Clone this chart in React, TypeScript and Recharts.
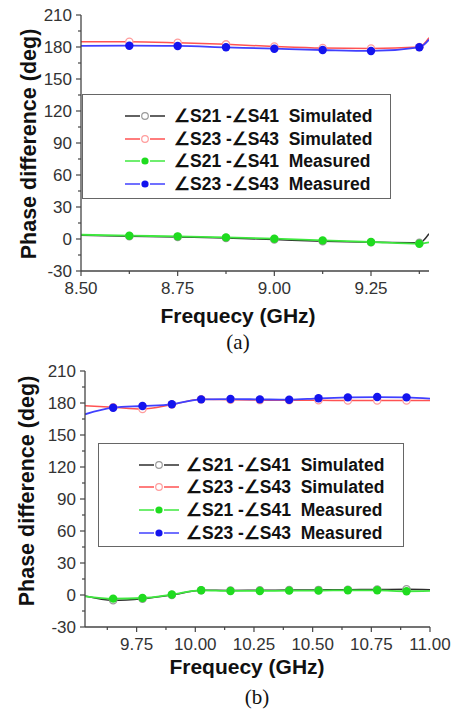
import React from 'react';
import { LineChart, Line, XAxis, YAxis, Label } from 'recharts';

// ---------- Data (a) ----------
const freqA = [8.5, 8.625, 8.75, 8.875, 9.0, 9.125, 9.25, 9.375, 9.4];
const simS21A = [3.5, 2.6, 1.8, 1.0, -0.5, -2.0, -3.0, -3.6, 5.0];
const simS23A = [185, 185, 184, 182.5, 180.5, 179, 178.6, 180, 188.7];
const measS21A = [4, 3.1, 2.5, 1.5, 0.3, -1.3, -2.8, -4.4, -3.2];
const measS23A = [181, 181.2, 181, 179.7, 178.4, 177.2, 176.3, 179.7, 187];
const xTicksA = [8.5, 8.625, 8.75, 8.875, 9.0, 9.125, 9.25, 9.375];

// ---------- Data (b) ----------
const freqB = [9.53, 9.65, 9.775, 9.9, 10.025, 10.15, 10.275, 10.4, 10.525, 10.65, 10.775, 10.9, 11.0];
const simS21B = [-1, -5, -3.5, 0, 4.5, 4.3, 4.5, 4.6, 4.8, 5, 5.1, 5.4, 5];
const simS23B = [177.5, 176, 174.4, 178.5, 183.4, 183, 182.7, 182.5, 182.5, 182.3, 182.3, 182.3, 182.3];
const measS21B = [-1.2, -3.4, -2.8, 0.4, 4.4, 3.8, 3.8, 4.1, 4.1, 4.4, 4.4, 3.5, 3.8];
const measS23B = [169.4, 175.6, 177.2, 178.8, 183.4, 183.7, 183.4, 183.1, 184.4, 185.3, 185.6, 185.3, 184.1];
const xTicksB = [9.625, 9.75, 9.875, 10.0, 10.125, 10.25, 10.375, 10.5, 10.625, 10.75, 10.875, 11.0];

const yTicks = [-30, -15, 0, 15, 30, 45, 60, 75, 90, 105, 120, 135, 150, 165, 180, 195, 210];

const legendLabels = [
  '\u2220S21 -\u2220S41  Simulated',
  '\u2220S23 -\u2220S43  Simulated',
  '\u2220S21 -\u2220S41  Measured',
  '\u2220S23 -\u2220S43  Measured',
];

const SANS = '"Liberation Sans", Arial, Helvetica, sans-serif';
const AXIS = '#454545';

const series = [
  { line: '#2e2e2e', mark: '#9a9a9a', hollow: true, width: 1.5 },
  { line: '#ff5252', mark: '#ff9c9c', hollow: true, width: 1.5 },
  { line: '#3fe83f', mark: '#1fdc1f', hollow: false, width: 1.8 },
  { line: '#4040ff', mark: '#1414ee', hollow: false, width: 1.8 },
];

const toRows = (xs: number[], ys: number[]) => xs.map((f, i) => ({ f, v: ys[i] }));

const makeDot = (s: typeof series[number], n: number) => (props: any) => {
  const { cx, cy, index } = props;
  if (index === 0 || index === n - 1 || cx == null || cy == null) return <g key={`e${index}`} />;
  if (s.hollow) {
    return <circle key={`d${index}`} cx={cx} cy={cy} r={3.6} fill="#fff" stroke={s.mark} strokeWidth={1.3} />;
  }
  return <circle key={`d${index}`} cx={cx} cy={cy} r={4.2} fill={s.mark} stroke="none" />;
};

const YTick = (props: any) => {
  const { x, y, payload } = props;
  const v = payload.value;
  const major = v % 30 === 0;
  return (
    <g>
      <line x1={x} x2={x - (major ? 5 : 3)} y1={y} y2={y} stroke={AXIS} strokeWidth={1.2} />
      {major && (
        <text x={x - 9} y={y} dy="0.36em" textAnchor="end" fontSize={17} fill="#333" fontFamily={SANS}>
          {v}
        </text>
      )}
    </g>
  );
};

const XTick = (props: any) => {
  const { x, y, payload } = props;
  const v = payload.value;
  const major = Math.abs(v * 4 - Math.round(v * 4)) < 1e-6;
  return (
    <g>
      <line x1={x} x2={x} y1={y} y2={y + (major ? 5 : 3)} stroke={AXIS} strokeWidth={1.2} />
      {major && (
        <text x={x} y={y + 23} textAnchor="middle" fontSize={17} fill="#333" fontFamily={SANS}>
          {v.toFixed(2)}
        </text>
      )}
    </g>
  );
};

const yTitle = (cx: number, cy: number) => () => (
  <text
    x={cx}
    y={cy}
    transform={`rotate(-90, ${cx}, ${cy})`}
    textAnchor="middle"
    dominantBaseline="central"
    fontSize={21.5}
    fontWeight="bold"
    fill="#111"
    fontFamily={SANS}
  >
    Phase difference (deg)
  </text>
);

const xTitle = (cx: number, by: number) => () => (
  <text x={cx} y={by} textAnchor="middle" fontSize={21} fontWeight="bold" fill="#111" fontFamily={SANS}>
    Frequecy (GHz)
  </text>
);

const Legend = ({ left, top, width, height, rowYs, sampleX, textX }: any) => (
  <div
    style={{
      position: 'absolute',
      left,
      top,
      width,
      height,
      border: '1.5px solid #666',
      background: '#fff',
      boxSizing: 'border-box',
    }}
  >
    {legendLabels.map((lab, i) => {
      const s = series[i];
      return (
        <div key={lab} style={{ position: 'absolute', left: 0, top: rowYs[i] - top - 12, height: 24, width: '100%' }}>
          <svg width={50} height={24} style={{ position: 'absolute', left: sampleX - left - 4 }}>
            <line x1={4} x2={19} y1={12} y2={12} stroke={s.line} strokeWidth={1.5} />
            <line x1={29} x2={44} y1={12} y2={12} stroke={s.line} strokeWidth={1.5} />
            {s.hollow ? (
              <circle cx={24} cy={12} r={3.3} fill="#fff" stroke={s.mark} strokeWidth={1.2} />
            ) : (
              <circle cx={24} cy={12} r={3.6} fill={s.mark} />
            )}
          </svg>
          <span
            style={{
              position: 'absolute',
              left: textX - left,
              top: 0,
              lineHeight: '24px',
              fontSize: 17.5,
              fontWeight: 'bold',
              fontFamily: SANS,
              color: '#111',
              whiteSpace: 'pre',
            }}
          >
            {lab}
          </span>
        </div>
      );
    })}
  </div>
);

const Panel = ({
  freq,
  vals,
  domain,
  xTicks,
  margin,
  height,
  yTitlePos,
  xTitlePos,
}: any) => {
  const n = freq.length;
  return (
    <LineChart width={457} height={height} margin={margin}>
      <XAxis
        dataKey="f"
        type="number"
        domain={domain}
        ticks={xTicks}
        interval={0}
        allowDataOverflow
        height={30}
        tickSize={0}
        tickMargin={0}
        tickLine={false}
        tick={<XTick />}
        axisLine={{ stroke: AXIS, strokeWidth: 1.3 }}
      >
        <Label content={xTitle(xTitlePos[0], xTitlePos[1])} />
      </XAxis>
      <YAxis
        type="number"
        domain={[-30, 210]}
        ticks={yTicks}
        interval={0}
        allowDataOverflow
        width={60}
        tickSize={0}
        tickMargin={0}
        tickLine={false}
        tick={<YTick />}
        axisLine={{ stroke: AXIS, strokeWidth: 1.3 }}
      >
        <Label content={yTitle(yTitlePos[0], yTitlePos[1])} />
      </YAxis>
      {vals.map((ys: number[], i: number) => (
        <Line
          key={i}
          data={toRows(freq, ys)}
          dataKey="v"
          type="monotone"
          stroke={series[i].line}
          strokeWidth={series[i].width}
          dot={makeDot(series[i], n)}
          activeDot={false}
          isAnimationActive={false}
        />
      ))}
    </LineChart>
  );
};

export default function App() {
  return (
    <div style={{ position: 'absolute', left: 0, top: 0, width: 457, height: 709, background: '#fff', overflow: 'hidden' }}>
      <div style={{ position: 'absolute', left: 0, top: 0 }}>
        <Panel
          freq={freqA}
          vals={[simS21A, simS23A, measS21A, measS23A]}
          domain={[8.5, 9.4]}
          xTicks={xTicksA}
          height={355}
          margin={{ top: 15, right: 28, bottom: 54, left: 21 }}
          yTitlePos={[29, 144]}
          xTitlePos={[238, 323]}
        />
      </div>
      <div style={{ position: 'absolute', left: 0, top: 355 }}>
        <Panel
          freq={freqB}
          vals={[simS21B, simS23B, measS21B, measS23B]}
          domain={[9.53, 11.0]}
          xTicks={xTicksB}
          height={354}
          margin={{ top: 16, right: 27, bottom: 52, left: 25 }}
          yTitlePos={[27, 136]}
          xTitlePos={[247, 319]}
        />
      </div>
      <Legend left={82} top={94} width={309} height={105} rowYs={[115, 137.5, 160, 183]} sampleX={124} textX={173} />
      <Legend left={98} top={443} width={306} height={104} rowYs={[463.5, 486, 509, 531.5]} sampleX={138} textX={185} />
      <div
        style={{
          position: 'absolute',
          left: 0,
          width: 476,
          top: 330,
          textAlign: 'center',
          fontFamily: '"Liberation Serif", "Times New Roman", serif',
          fontSize: 21,
          lineHeight: '24px',
          color: '#111',
        }}
      >
        (a)
      </div>
      <div
        style={{
          position: 'absolute',
          left: 0,
          width: 514,
          top: 685,
          textAlign: 'center',
          fontFamily: '"Liberation Serif", "Times New Roman", serif',
          fontSize: 21,
          lineHeight: '24px',
          color: '#111',
        }}
      >
        (b)
      </div>
    </div>
  );
}
